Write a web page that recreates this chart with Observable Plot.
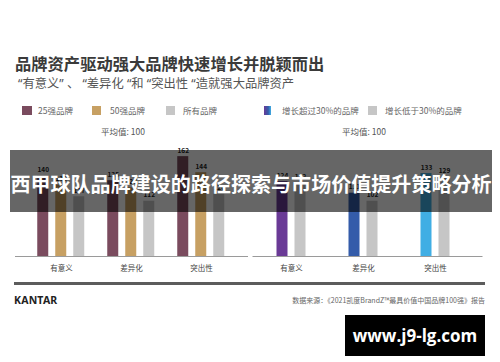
<!DOCTYPE html>
<html>
<head>
<meta charset="utf-8">
<script src="https://cdn.jsdelivr.net/npm/d3@7"></script>
<script src="https://cdn.jsdelivr.net/npm/@observablehq/plot@0.6"></script>
<style>
  html, body { margin: 0; padding: 0; background: #fff; }
  body { width: 500px; height: 362px; position: relative; overflow: hidden;
         font-family: "Noto Sans CJK SC", "Noto Sans", sans-serif; }
  .abs { position: absolute; white-space: nowrap; }
  #title { left: 15px; top: 51px; font-size: 16.3px; font-weight: 700; color: #3a3a3a; line-height: 24px; }
  #subtitle { left: 18px; top: 76px; font-size: 12.3px; color: #555; line-height: 16px;
              font-family: "Noto Sans", "Noto Sans CJK SC", sans-serif; }
  .leg { font-size: 8.5px; color: #666; line-height: 12px; top: 104px; }
  .sw { position: absolute; top: 106px; height: 9px; }
  .avg { font-size: 8.5px; color: #555; line-height: 12px; top: 125px; }
  #left, #right { position: absolute; top: 140px; }
  #left { left: 0; } #right { left: 250px; }
  #rule { position: absolute; left: 14px; top: 282px; width: 471px; height: 3px; background: #5c5c5c; }
  #kantar { left: 14px; top: 293px; font-size: 10.5px; font-weight: 700; color: #222; line-height: 14px;
            font-family: "Noto Sans", sans-serif; letter-spacing: 0.2px; }
  #source { right: 15px; top: 295px; font-size: 7px; color: #666; line-height: 10px; }
  #banner { position: absolute; left: 10px; top: 150px; width: 482px; height: 62px; background: rgba(0,0,0,0.6);
            display: flex; align-items: center; justify-content: center; z-index: 5; }
  #banner span { color: #fff; font-size: 20px; font-weight: 700; white-space: nowrap; letter-spacing: 0.05px;
                 position: relative; top: 2px; }
  #wm { position: absolute; left: 345px; top: 315px; width: 140px; height: 41px; background: #000;
        display: flex; align-items: center; justify-content: center; z-index: 5; }
  #wm span { color: #fff; font-family: "Open Sans", sans-serif; font-weight: 700; font-size: 17px; }
</style>
</head>
<body>
<div id="title" class="abs">品牌资产驱动强大品牌快速增长并脱颖而出</div>
<div id="subtitle" class="abs">“有意义”  、 “差异化 “和 “突出性 “造就强大品牌资产</div>

<div id="legendL"></div>
<div id="legendR"></div>
<div class="abs avg" style="left:101px">平均值: 100</div>
<div class="abs avg" style="left:342px">平均值: 100</div>

<div id="left"></div>
<div id="right"></div>

<div id="rule"></div>
<div id="kantar" class="abs">KANTAR</div>
<div id="source" class="abs">数据来源：《2021凯度BrandZ™最具价值中国品牌100强》报告</div>

<div id="banner"><span>西甲球队品牌建设的路径探索与市场价值提升策略分析</span></div>
<div id="wm"><span>www.j9-lg.com</span></div>

<script>
// ---- data ----
const categories = ["有意义", "差异化", "突出性"];
const leftSeries = ["25强品牌", "50强品牌", "所有品牌"];
const top25 = [140, 135, 162];
const top50 = [130, 127, 144];
const allBrands = [117, 112, 120];
const leftColors = ["#7a4b5e", "#c7a063", "#c6c6c6"];

const rightSeries = ["增长超过30%的品牌", "增长低于30%的品牌"];
const growthHigh = [124, 111, 133];
const growthLow = [122, 102, 129];
const highColors = ["#6a3a96", "#345caa", "#40aee4"];
const lowColor = "#c6c6c6";

const leftDomain = [50, 170];
const rightDomain = [40, 160];

// ---- tables ----
const leftRows = [];
[top25, top50, allBrands].forEach((vals, s) => {
  categories.forEach((c, i) => leftRows.push({category: c, series: leftSeries[s], value: vals[i], color: leftColors[s]}));
});
const rightRows = [];
categories.forEach((c, i) => {
  rightRows.push({category: c, series: rightSeries[0], value: growthHigh[i], color: highColors[i]});
  rightRows.push({category: c, series: rightSeries[1], value: growthLow[i], color: lowColor});
});

// ---- legends ----
function legend(el, items) {
  const root = document.getElementById(el);
  items.forEach(it => {
    const sw = document.createElement("div");
    sw.className = "sw";
    sw.style.left = it.sx + "px";
    sw.style.width = it.sw + "px";
    sw.style.background = it.color;
    root.appendChild(sw);
    const t = document.createElement("div");
    t.className = "abs leg";
    t.style.left = it.tx + "px";
    t.textContent = it.label;
    root.appendChild(t);
  });
}
legend("legendL", [
  {label: leftSeries[0], color: leftColors[0], sx: 22, sw: 10, tx: 38},
  {label: leftSeries[1], color: leftColors[1], sx: 92, sw: 9, tx: 110},
  {label: leftSeries[2], color: leftColors[2], sx: 166, sw: 9, tx: 183}
]);
legend("legendR", [
  {label: rightSeries[0], color: `linear-gradient(to right, ${highColors[0]}, ${highColors[1]} 60%, ${highColors[2]})`, sx: 264, sw: 7, tx: 282},
  {label: rightSeries[1], color: lowColor, sx: 368, sw: 9, tx: 385}
]);

// ---- charts ----
function chart(rows, series, domain, o) {
  return Plot.plot({
    width: 250, height: 140,
    marginTop: 9, marginBottom: 24, marginLeft: o.ml, marginRight: o.mr,
    style: {fontFamily: '"Noto Sans CJK SC", sans-serif', fontSize: "7.5px", color: "#444", background: "transparent", overflow: "visible"},
    fx: {domain: categories, paddingInner: 0, paddingOuter: 0, axis: "bottom", tickSize: 0, tickPadding: 9, label: null},
    x: {domain: series, paddingInner: o.pi, paddingOuter: o.po, axis: null},
    y: {domain, clamp: true, axis: null},
    color: {type: "identity"},
    marks: [
      Plot.barY(rows, {fx: "category", x: "series", y: "value", fill: "color"}),
      Plot.text(rows, {fx: "category", x: "series", y: "value", text: d => String(d.value), dy: -6,
                       fontSize: 6.5, fontWeight: 700, fill: "#222"}),
      Plot.ruleY([domain[0]], {stroke: "#9a9a9a", strokeWidth: 1, insetLeft: o.il, insetRight: o.ir})
    ]
  });
}

document.getElementById("left").appendChild(
  chart(leftRows, leftSeries, leftDomain, {ml: 24.75, mr: 13.75, pi: 0.4054, po: 0.608, il: -11, ir: -12})
);
document.getElementById("right").appendChild(
  chart(rightRows, rightSeries, rightDomain, {ml: 4.5, mr: 29.5, pi: 0.389, po: 1.194, il: -2.5, ir: -11.5})
);
</script>
</body>
</html>
